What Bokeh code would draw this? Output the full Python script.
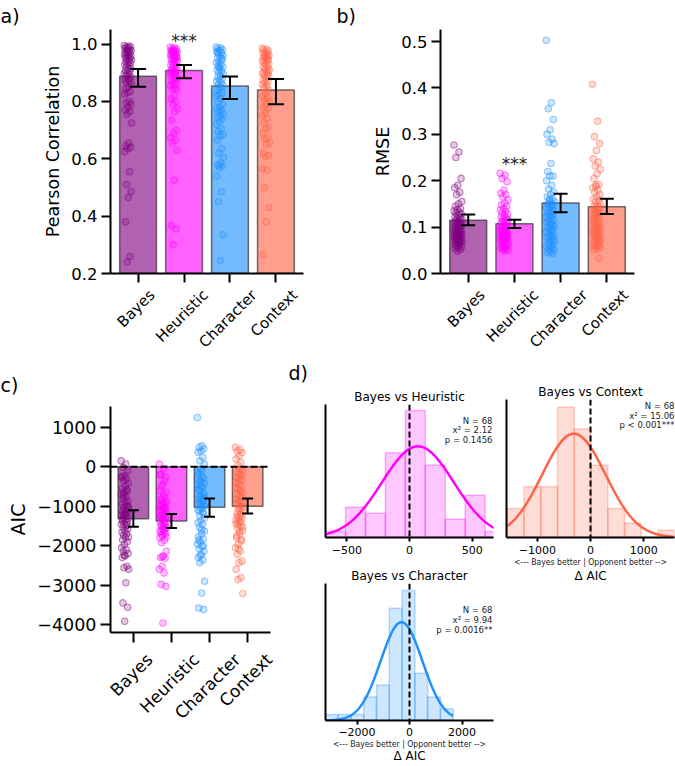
import math

import numpy as np
from bokeh.embed import file_html
from bokeh.layouts import column, row
from bokeh.models import (ColumnDataSource, FixedTicker, Label, LinearAxis,
                          PrintfTickFormatter, Range1d, Span, TeeHead, Title, Whisker)
from bokeh.plotting import figure
from bokeh.resources import INLINE

# ---------------------------------------------------------------- data
MODELS = ["Bayes", "Heuristic", "Character", "Context"]
COLORS = ["#800080", "#ff00ff", "#1e90ff", "#ff6347"]

# per-participant Pearson correlation
PEARSON_BAYES = [0.995, 0.993, 0.99, 0.99, 0.988, 0.985, 0.982, 0.98, 0.978, 0.975, 0.972, 0.97,
                 0.968, 0.965, 0.962, 0.96, 0.957, 0.955, 0.952, 0.95, 0.947, 0.945, 0.94, 0.938,
                 0.935, 0.93, 0.927, 0.925, 0.92, 0.915, 0.912, 0.908, 0.905, 0.90, 0.897, 0.893,
                 0.89, 0.885, 0.88, 0.876, 0.872, 0.866, 0.86, 0.852, 0.845, 0.835, 0.83, 0.825,
                 0.80, 0.795, 0.79, 0.78, 0.77, 0.765, 0.755, 0.725, 0.655, 0.645, 0.64, 0.635,
                 0.625, 0.555, 0.51, 0.485, 0.465, 0.38, 0.26, 0.24]
PEARSON_HEUR = [0.99, 0.988, 0.985, 0.983, 0.98, 0.978, 0.976, 0.974, 0.972, 0.97, 0.968, 0.966,
                0.964, 0.962, 0.96, 0.958, 0.955, 0.952, 0.95, 0.948, 0.945, 0.942, 0.94, 0.937,
                0.934, 0.93, 0.927, 0.924, 0.92, 0.917, 0.914, 0.91, 0.907, 0.905, 0.902, 0.90,
                0.975, 0.955, 0.897, 0.893, 0.89, 0.885, 0.88, 0.875, 0.87, 0.865, 0.86, 0.855,
                0.847, 0.843, 0.84, 0.82, 0.81, 0.80, 0.79, 0.775, 0.765, 0.735, 0.70, 0.69,
                0.675, 0.665, 0.655, 0.63, 0.525, 0.367, 0.355, 0.30]
PEARSON_CHAR = [0.99, 0.987, 0.984, 0.98, 0.977, 0.974, 0.97, 0.965, 0.96, 0.955, 0.95, 0.945,
                0.94, 0.935, 0.93, 0.925, 0.92, 0.915, 0.91, 0.905, 0.90, 0.895, 0.89, 0.885,
                0.88, 0.875, 0.87, 0.865, 0.86, 0.855, 0.85, 0.84, 0.83, 0.825, 0.82, 0.81,
                0.80, 0.79, 0.78, 0.775, 0.77, 0.765, 0.755, 0.75, 0.745, 0.74, 0.73, 0.72,
                0.705, 0.695, 0.685, 0.68, 0.665, 0.635, 0.62, 0.605, 0.585, 0.578, 0.575, 0.57,
                0.54, 0.485, 0.45, 0.335, 0.245, 0.97, 0.95, 0.92]
PEARSON_CTX = [0.985, 0.982, 0.98, 0.976, 0.972, 0.97, 0.966, 0.962, 0.96, 0.956, 0.952, 0.95,
               0.946, 0.942, 0.94, 0.935, 0.93, 0.926, 0.922, 0.918, 0.914, 0.91, 0.906, 0.903,
               0.90, 0.955, 0.897, 0.893, 0.89, 0.886, 0.88, 0.875, 0.87, 0.865, 0.86, 0.855,
               0.85, 0.84, 0.83, 0.82, 0.812, 0.805, 0.80, 0.79, 0.78, 0.775, 0.76, 0.75,
               0.74, 0.725, 0.71, 0.705, 0.69, 0.675, 0.67, 0.655, 0.65, 0.62, 0.612, 0.608,
               0.565, 0.56, 0.5, 0.43, 0.38, 0.265, 0.945, 0.845]
PEARSON_BAR = [0.888, 0.908, 0.854, 0.840]
PEARSON_CI_LO = [0.851, 0.881, 0.809, 0.790]
PEARSON_CI_HI = [0.913, 0.927, 0.887, 0.878]
PEARSON_TICKS = [0.2, 0.4, 0.6, 0.8, 1.0]

# per-participant RMSE
RMSE_BAYES = [0.277, 0.262, 0.25, 0.205, 0.19, 0.185, 0.175, 0.17, 0.155, 0.15, 0.145, 0.14,
              0.138, 0.135, 0.132, 0.13, 0.128, 0.125, 0.122, 0.12, 0.118, 0.116, 0.115, 0.113,
              0.111, 0.11, 0.108, 0.106, 0.105, 0.103, 0.101, 0.1, 0.098, 0.097, 0.095, 0.094,
              0.093, 0.092, 0.09, 0.088, 0.087, 0.086, 0.085, 0.084, 0.083, 0.082, 0.081, 0.08,
              0.079, 0.078, 0.077, 0.075, 0.074, 0.073, 0.072, 0.07, 0.069, 0.068, 0.067, 0.065,
              0.063, 0.062, 0.06, 0.058, 0.056, 0.054, 0.052, 0.048]
RMSE_HEUR = [0.216, 0.212, 0.205, 0.198, 0.18, 0.173, 0.17, 0.165, 0.159, 0.152, 0.148, 0.145,
             0.14, 0.137, 0.134, 0.131, 0.128, 0.125, 0.122, 0.12, 0.118, 0.116, 0.114, 0.112,
             0.11, 0.108, 0.106, 0.104, 0.102, 0.1, 0.099, 0.097, 0.096, 0.094, 0.093, 0.091,
             0.09, 0.088, 0.087, 0.085, 0.084, 0.083, 0.081, 0.08, 0.079, 0.077, 0.076, 0.075,
             0.073, 0.072, 0.07, 0.069, 0.068, 0.066, 0.065, 0.063, 0.062, 0.06, 0.059, 0.057,
             0.055, 0.054, 0.052, 0.05, 0.048, 0.092, 0.086, 0.078]
RMSE_CHAR = [0.503, 0.368, 0.355, 0.332, 0.31, 0.3, 0.29, 0.283, 0.28, 0.237, 0.22, 0.21,
             0.21, 0.2, 0.19, 0.182, 0.175, 0.17, 0.165, 0.16, 0.157, 0.155, 0.152, 0.15,
             0.147, 0.145, 0.142, 0.14, 0.137, 0.135, 0.132, 0.13, 0.127, 0.125, 0.122, 0.12,
             0.117, 0.115, 0.112, 0.11, 0.107, 0.105, 0.102, 0.1, 0.098, 0.095, 0.093, 0.09,
             0.088, 0.085, 0.082, 0.08, 0.078, 0.075, 0.072, 0.07, 0.068, 0.065, 0.062, 0.06,
             0.057, 0.055, 0.052, 0.05, 0.047, 0.045, 0.043, 0.16]
RMSE_CTX = [0.408, 0.328, 0.295, 0.28, 0.265, 0.247, 0.24, 0.232, 0.225, 0.215, 0.205, 0.192,
            0.188, 0.185, 0.18, 0.175, 0.17, 0.165, 0.16, 0.157, 0.154, 0.15, 0.147, 0.145,
            0.142, 0.14, 0.137, 0.135, 0.132, 0.13, 0.128, 0.125, 0.123, 0.12, 0.118, 0.115,
            0.113, 0.11, 0.108, 0.106, 0.104, 0.102, 0.1, 0.098, 0.096, 0.094, 0.092, 0.09,
            0.088, 0.086, 0.084, 0.082, 0.08, 0.078, 0.076, 0.074, 0.072, 0.07, 0.067, 0.064,
            0.062, 0.06, 0.058, 0.056, 0.053, 0.05, 0.033, 0.19]
RMSE_BAR = [0.115, 0.107, 0.152, 0.144]
RMSE_CI_LO = [0.104, 0.098, 0.132, 0.128]
RMSE_CI_HI = [0.127, 0.116, 0.172, 0.161]
RMSE_TICKS = [0.0, 0.1, 0.2, 0.3, 0.4, 0.5]

# per-participant AIC
AIC_BAYES = [150, 70, -20, -100, -230, -270, -300, -350, -420, -480, -550, -610, -650, -700,
             -760, -800, -860, -900, -950, -990, -1030, -1060, -1100, -1130, -1160, -1190,
             -1220, -1250, -1280, -1310, -1340, -1370, -1400, -1440, -1460, -1500, -1540,
             -1580, -1620, -1660, -1700, -1740, -1780, -1800, -1850, -1900, -1970, -2050,
             -2100, -2140, -2200, -2260, -2300, -2520, -2560, -2600, -2940, -3450, -3560,
             -3915, -250, -580, -720, -1000, -1200, -1330, -1480, -2240]
AIC_HEUR = [70, -50, -190, -260, -440, -610, -780, -850, -900, -960, -1000, -1050, -1100,
            -1150, -1200, -1250, -1300, -1350, -1400, -1460, -1500, -1550, -1600, -1650,
            -1700, -1750, -1800, -1860, -1920, -2140, -2260, -2300, -2320, -2520, -2600,
            -2690, -2980, -3030, -3960, -200, -350, -500, -650, -700, -820, -880, -930, -980,
            -1020, -1080, -1130, -1180, -1230, -1280, -1330, -1380, -1430, -1480, -1530,
            -1580, -1630, -1680, -1720, -1780, -1520, -1260, -1050, -2280]
AIC_CHAR = [1250, 530, 490, 450, 400, 365, 240, 150, 60, -100, -200, -300, -380, -450, -520,
            -610, -700, -760, -820, -880, -940, -1000, -1060, -1120, -1200, -1370, -1420,
            -1460, -1540, -1630, -1700, -1780, -1830, -1900, -1960, -2020, -2080, -2150,
            -2220, -2300, -2360, -2430, -2900, -3200, -3580, -3620, -50, -150, -250, -350,
            -420, -480, -560, -650, -730, -800, -850, -910, -970, -1030, -1090, -1150, -1250,
            -1300, -1600, -1860, -2000, -2250]
AIC_CTX = [490, 440, 400, 360, 280, 200, 110, 30, -100, -180, -260, -340, -420, -525, -610,
           -700, -780, -860, -940, -1000, -1060, -1120, -1200, -1260, -1320, -1380, -1440,
           -1500, -1560, -1620, -1710, -1800, -1880, -1960, -2050, -2130, -2220, -2390, -2430,
           -2600, -2810, -2860, -3210, -50, -140, -220, -300, -380, -470, -560, -650, -740,
           -820, -900, -970, -1040, -1100, -1170, -1230, -1290, -1350, -1410, -1470, -1530,
           -1650, -1750, -1850, -2080]
AIC_BAR = [-1315, -1374, -1026, -1000]
AIC_CI_LO = [-1519, -1552, -1264, -1187]
AIC_CI_HI = [-1102, -1196, -806, -806]
AIC_TICKS = [-4000, -3000, -2000, -1000, 0, 1000]
AIC_TICK_LABELS = ["\u22124000", "\u22123000", "\u22122000", "\u22121000", "0", "1000"]

# Delta-AIC histograms (Bayes minus opponent) with fitted normals
HEUR_EDGES = [-669, -510, -351, -192, -33, 126, 285, 444, 603, 762]
HEUR_COUNTS = [1, 5, 4, 14, 21, 12, 3, 7, 1]
HEUR_FIT = (67, 286)
HEUR_STATS = ["N = 68", "x\u00b2 = 2.12", "p = 0.1456"]
HEUR_TICKS = [-500, 0, 500]
HEUR_TICK_LABELS = ["\u2212500", "0", "500"]

CTX_EDGES = [-1565, -1250, -935, -620, -305, 10, 325, 640, 955, 1270, 1585]
CTX_COUNTS = [4, 7, 7, 18, 15, 10, 4, 2, 0, 1]
CTX_FIT = (-313, 596)
CTX_STATS = ["N = 68", "x\u00b2 = 15.06", "p < 0.001***"]
CTX_TICKS = [-1000, 0, 1000]
CTX_TICK_LABELS = ["\u22121000", "0", "1000"]

CHAR_EDGES = [-3205, -2718, -2231, -1744, -1257, -770, -283, 204, 691, 1178, 1665]
CHAR_COUNTS = [1, 1, 1, 4, 6, 19, 22, 8, 4, 2]
CHAR_FIT = (-304, 794)
CHAR_STATS = ["N = 68", "x\u00b2 = 9.94", "p = 0.0016**"]
CHAR_TICKS = [-2000, 0, 2000]
CHAR_TICK_LABELS = ["\u22122000", "0", "2000"]

# ---------------------------------------------------------------- styling helpers
FONT = "DejaVu Sans"
NARROW = "DejaVu Sans Condensed"
GOLDEN = 0.6180339887
STRIP_SHIFT = -0.22
X_LO, X_HI = -0.6, 3.6

# DejaVu Sans advance widths (em) used to centre the rotated model names under ticks
ADV = {"B": 0.686, "a": 0.613, "y": 0.592, "e": 0.615, "s": 0.521, "H": 0.752, "u": 0.634,
       "r": 0.411, "i": 0.278, "t": 0.392, "c": 0.550, "C": 0.698, "h": 0.634, "o": 0.612,
       "n": 0.634, "x": 0.592}


def text_em(s):
    return sum(ADV.get(ch, 0.6) for ch in s)


def new_figure(width, height, borders, x_range, y_range):
    left, right, top, bottom = borders
    p = figure(width=width, height=height, x_range=x_range, y_range=y_range,
               output_backend="svg", toolbar_location=None,
               min_border_left=left, min_border_right=right, min_border_top=top,
               min_border_bottom=bottom)
    p.frame_align = False
    p.outline_line_color = None
    p.xgrid.visible = False
    p.ygrid.visible = False
    p.background_fill_color = "white"
    p.border_fill_color = "white"
    return p


def style_axis(ax, tick_font, tick_len, standoff, width=2):
    ax.axis_line_color = "black"
    ax.axis_line_width = width
    ax.major_tick_line_color = "black"
    ax.major_tick_line_width = width
    ax.major_tick_out = tick_len
    ax.major_tick_in = 0
    ax.minor_tick_out = 0
    ax.minor_tick_in = 0
    ax.minor_tick_line_color = None
    ax.major_label_standoff = int(standoff)
    ax.major_label_text_font = FONT
    ax.major_label_text_font_size = tick_font
    ax.major_label_text_color = "black"
    ax.axis_label_text_font = FONT
    ax.axis_label_text_font_style = "normal"
    ax.axis_label_text_color = "black"


def panel_title(p, text, offset, standoff, valign):
    p.title.text = text
    p.title.align = "left"
    p.title.offset = offset
    p.title.standoff = standoff
    p.title.vertical_align = valign
    p.title.text_font = FONT
    p.title.text_font_size = "19px"
    p.title.text_font_style = "normal"
    p.title.text_color = "black"


def bar_panel(width, height, borders, y_lo, y_hi, ticks, tick_labels, ylabel, bars,
              ci_lo, ci_hi, points, cfg):
    p = new_figure(width, height, borders, Range1d(X_LO, X_HI), Range1d(y_lo, y_hi))
    xs = list(range(len(MODELS)))
    bar_base = max(y_lo, 0)
    p.vbar(x=xs, top=bars, bottom=bar_base, width=0.8, fill_color=COLORS, fill_alpha=0.62,
           line_color="#333333", line_alpha=0.7, line_width=1.5)

    for i, (vals, col) in enumerate(zip(points, COLORS)):
        px = [i + STRIP_SHIFT + cfg["spread"] * (2 * ((k * GOLDEN) % 1.0) - 1)
              for k in range(len(vals))]
        p.scatter(px, vals, size=6.5, fill_color=col, fill_alpha=0.22, line_color=col,
                  line_alpha=0.45, line_width=1.1)

    err = ColumnDataSource(dict(x=xs, lo=ci_lo, hi=ci_hi))
    p.add_layout(Whisker(source=err, base="x", lower="lo", upper="hi", dimension="height",
                         line_color="black", line_width=2, level="annotation",
                         lower_head=TeeHead(size=cfg["cap"], line_width=2, line_color="black"),
                         upper_head=TeeHead(size=cfg["cap"], line_width=2, line_color="black")))

    p.yaxis.ticker = FixedTicker(ticks=ticks)
    if tick_labels:
        p.yaxis.major_label_overrides = dict(zip(ticks, tick_labels))
    else:
        p.yaxis.formatter = PrintfTickFormatter(format="%.1f")
    p.yaxis.axis_label = ylabel
    style_axis(p.yaxis[0], cfg["tick_px"], cfg["tick_len"], 4)
    p.yaxis.axis_label_text_font_size = cfg["label_px"]
    p.yaxis.axis_label_standoff = 5

    # tick marks only; the names sit on a second, line-less axis below
    p.xaxis.ticker = FixedTicker(ticks=xs)
    p.xaxis.major_label_overrides = {i: "" for i in xs}
    style_axis(p.xaxis[0], "0px", cfg["tick_len"], 0)

    left, right = borders[0], borders[1]
    px_per_unit = (width - left - right) / (X_HI - X_LO)
    size = cfg["cat_size"]
    # rotated labels are right-anchored, so shift each anchor by half its rotated width
    pos = []
    for i, m in zip(xs, MODELS):
        shift_px = 0.3536 * size * text_em(m) - 2
        pos.append(round(min(i + shift_px / px_per_unit, X_HI - 0.004), 4))
    cat_ax = LinearAxis(ticker=FixedTicker(ticks=pos),
                        major_label_overrides=dict(zip(pos, MODELS)),
                        major_label_orientation=math.pi / 4)
    style_axis(cat_ax, f"{size}px", 0, cfg["cat_gap"] - cfg["tick_len"])
    cat_ax.axis_line_color = None
    cat_ax.major_tick_line_color = None
    p.add_layout(cat_ax, "below")
    return p


def hist_panel(width, height, borders, half_span, y_top, edges, counts, color, fit, ticks,
               tick_labels, title, stats, stats_dy, stats_dx, xlabel, tight=False):
    p = new_figure(width, height, borders, Range1d(-half_span, half_span), Range1d(0, y_top))
    p.quad(left=edges[:-1], right=edges[1:], bottom=0, top=counts, fill_color=color,
           fill_alpha=0.22, line_color=color, line_alpha=0.3, line_width=1.5)

    mu, sigma = fit
    n = sum(counts)
    bw = edges[1] - edges[0]
    xs = np.linspace(edges[0], edges[-1], 400)
    ys = n * bw * np.exp(-0.5 * ((xs - mu) / sigma) ** 2) / (sigma * math.sqrt(2 * math.pi))
    p.line(xs, ys, line_color=color, line_width=2.5)
    p.add_layout(Span(location=0, dimension="height", line_color="black", line_width=2,
                      line_dash="6 3"))

    p.add_layout(Title(text=title, align="center", standoff=2, text_font=FONT,
                       text_font_size="12px", text_font_style="normal", text_color="black"),
                 "above")

    p.yaxis.ticker = FixedTicker(ticks=[])
    style_axis(p.yaxis[0], "11px", 0, 0)
    p.xaxis.ticker = FixedTicker(ticks=ticks)
    p.xaxis.major_label_overrides = dict(zip(ticks, tick_labels))
    style_axis(p.xaxis[0], "11px", 4, 3 if tight else 4)

    for txt, dy in zip(stats, stats_dy):
        p.add_layout(Label(x=half_span, y=y_top, x_offset=stats_dx, y_offset=-dy, text=txt,
                           text_font=FONT, text_font_size="8.5px", text_align="right",
                           text_baseline="middle", text_color="#222222"))
    if xlabel:
        p.xaxis.axis_label = "<--- Bayes better | Opponent better -->"
        p.xaxis.axis_label_text_font = NARROW
        p.xaxis.axis_label_text_font_size = "8.6px"
        p.xaxis.axis_label_text_color = "#222222"
        p.xaxis.axis_label_standoff = 0
        delta_ax = LinearAxis(ticker=FixedTicker(ticks=[]), axis_label="\u0394 AIC")
        style_axis(delta_ax, "11px", 0, 0)
        delta_ax.axis_line_color = None
        delta_ax.axis_label_text_font_size = "12px"
        delta_ax.axis_label_standoff = -3 if tight else -1
        p.add_layout(delta_ax, "below")
    return p


# ---------------------------------------------------------------- panels
top_cfg = dict(spread=0.08, cap=16, tick_px="16.5px", label_px="17.5px", tick_len=9,
               cat_size=15, cat_gap=19)
pa = bar_panel(336, 360, (110, 33, 27, 87), 0.2, 1.051, PEARSON_TICKS, None,
               "Pearson Correlation", PEARSON_BAR, PEARSON_CI_LO, PEARSON_CI_HI,
               [PEARSON_BAYES, PEARSON_HEUR, PEARSON_CHAR, PEARSON_CTX], top_cfg)
panel_title(pa, "a)", -110, 5, "bottom")
pa.add_layout(Label(x=1, y=1.012, text="***", text_font=FONT, text_font_size="17px",
                    text_align="center", text_baseline="alphabetic", text_color="#222222"))

cfg_b = dict(top_cfg, cap=14, spread=0.09)
pb = bar_panel(339, 360, (104, 41, 27, 87), 0.0, 0.526, RMSE_TICKS, None, "RMSE",
               RMSE_BAR, RMSE_CI_LO, RMSE_CI_HI,
               [RMSE_BAYES, RMSE_HEUR, RMSE_CHAR, RMSE_CTX], cfg_b)
panel_title(pb, "b)", -104, 5, "bottom")
pb.add_layout(Label(x=1, y=0.237, text="***", text_font=FONT, text_font_size="17px",
                    text_align="center", text_baseline="alphabetic", text_color="#222222"))

cfg_c = dict(spread=0.1, cap=11, tick_px="17.5px", label_px="19px", tick_len=10,
             cat_size=17, cat_gap=24)
pc = bar_panel(285, 406, (110, 15, 46, 134), -4200, 1527, AIC_TICKS, AIC_TICK_LABELS, "AIC",
               AIC_BAR, AIC_CI_LO, AIC_CI_HI, [AIC_BAYES, AIC_HEUR, AIC_CHAR, AIC_CTX], cfg_c)
pc.add_layout(Span(location=0, dimension="width", line_color="black", line_width=2,
                   line_dash="7 3"))
panel_title(pc, "c)", -110, 22, "bottom")

d_heur = hist_panel(215, 205, (40, 7, 40, 28), 670, 22, HEUR_EDGES, HEUR_COUNTS, COLORS[1],
                    HEUR_FIT, HEUR_TICKS, HEUR_TICK_LABELS, "Bayes vs Heuristic",
                    HEUR_STATS, [16, 25.7, 35.3], -1, False)
panel_title(d_heur, "d)", -37, 2, "top")
d_char = hist_panel(215, 201, (40, 7, 18, 46), 3200, 23.2, CHAR_EDGES, CHAR_COUNTS, COLORS[2],
                    CHAR_FIT, CHAR_TICKS, CHAR_TICK_LABELS, "Bayes vs Character",
                    CHAR_STATS, [26.7, 36, 46], -1, True, tight=True)
d_ctx = hist_panel(175, 406, (6, 1, 39, 229), 1580, 19.07, CTX_EDGES, CTX_COUNTS, COLORS[3],
                   CTX_FIT, CTX_TICKS, CTX_TICK_LABELS, "Bayes vs Context",
                   CTX_STATS, [6, 16, 25.7], 0, True)

layout = column(row(pa, pb), row(pc, column(d_heur, d_char), d_ctx))

with open("out.html", "w") as f:
    f.write(file_html(layout, INLINE))
